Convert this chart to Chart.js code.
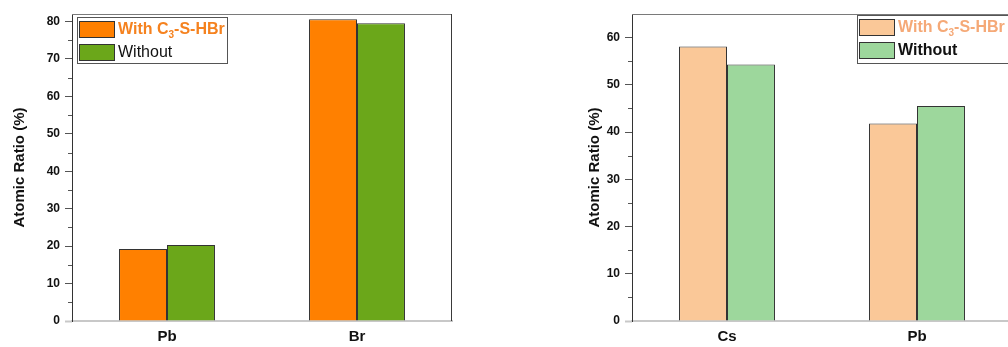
<!DOCTYPE html>
<html>
<head>
<meta charset="utf-8">
<script src="https://cdn.jsdelivr.net/npm/chart.js@4.4.0/dist/chart.umd.min.js"></script>
<style>
  html, body { margin: 0; padding: 0; background: #fff; }
  #wrap { position: relative; width: 1008px; height: 347px; overflow: hidden; }
  canvas { position: absolute; top: 0; }
  #left { left: 0; }
  #right { left: 560px; }
</style>
</head>
<body>
<div id="wrap">
  <canvas id="left" width="520" height="347"></canvas>
  <canvas id="right" width="460" height="347"></canvas>
</div>
<script>
const FONT = "'Liberation Sans', Arial, sans-serif";

// left panel
const leftElements = ['Pb', 'Br'];
const leftWith = [19.2, 80.6];
const leftWithout = [20.3, 79.5];

// right panel
const rightElements = ['Cs', 'Pb'];
const rightWith = [58.1, 41.8];
const rightWithout = [54.3, 45.5];

const seriesLabels = ['With C₃-S-HBr', 'Without'];

// draws text, turning unicode subscript digits into small lowered digits
function drawLabel(ctx, text, x, y, size, weight) {
  const parts = text.split(/([\u2080-\u2089]+)/);
  parts.forEach((p, i) => {
    if (!p) return;
    const sub = i % 2 == 1;
    const t = sub ? p.replace(/[\u2080-\u2089]/g, c => String.fromCharCode(c.charCodeAt(0) - 0x2080 + 48)) : p;
    ctx.font = `${weight} ${sub ? Math.round(size * 0.62) : size}px ${FONT}`;
    ctx.fillText(t, x, sub ? y + size * 0.3 : y);
    x += ctx.measureText(t).width;
  });
}

const frame = {
  id: 'frame',
  beforeDatasetsDraw(chart) {
    const { ctx, chartArea: a } = chart;
    ctx.save();
    ctx.lineWidth = 1;
    ctx.strokeStyle = '#7a7a7a';
    ctx.beginPath();
    ctx.moveTo(a.left, a.top + 0.5);
    ctx.lineTo(a.right, a.top + 0.5);
    ctx.stroke();
    ctx.strokeStyle = '#3a3a3a';
    ctx.beginPath();
    ctx.moveTo(a.right - 0.5, a.top);
    ctx.lineTo(a.right - 0.5, a.bottom);
    ctx.stroke();
    // minor ticks
    const y = chart.scales.y;
    ctx.strokeStyle = '#555';
    ctx.beginPath();
    for (let v = 5; v < y.max; v += 10) {
      const py = Math.round(y.getPixelForValue(v)) + 0.5;
      ctx.moveTo(a.left - 4, py);
      ctx.lineTo(a.left, py);
    }
    ctx.stroke();
    ctx.restore();
  }
};

const boxLegend = {
  id: 'boxLegend',
  afterDatasetsDraw(chart, args, opts) {
    const { ctx, chartArea } = chart;
    const x0 = chartArea.left + opts.dx, y0 = chartArea.top + opts.dy;
    ctx.save();
    ctx.fillStyle = '#fff';
    ctx.fillRect(x0, y0, opts.width, opts.height);
    ctx.strokeStyle = '#555';
    ctx.lineWidth = 1;
    ctx.strokeRect(x0 + 0.5, y0 + 0.5, opts.width, opts.height);
    chart.data.datasets.forEach((ds, i) => {
      const ry = y0 + 4 + i * 23;
      ctx.fillStyle = ds.backgroundColor;
      ctx.fillRect(x0 + 2.5, ry + 0.5, 35, 16);
      ctx.strokeStyle = '#333';
      ctx.strokeRect(x0 + 2.5, ry + 0.5, 35, 16);
      ctx.fillStyle = opts.textColors[i];
      ctx.textBaseline = 'middle';
      ctx.textAlign = 'left';
      drawLabel(ctx, ds.label, x0 + 41, ry + 9, 16, opts.weights[i]);
    });
    ctx.restore();
  }
};

function makeChart(id, labels, withVals, withoutVals, colors, yMax, padRight, titlePad, legendOpts) {
  return new Chart(document.getElementById(id), {
    type: 'bar',
    data: {
      labels: labels,
      datasets: [
        { label: seriesLabels[0], data: withVals, backgroundColor: colors[0], borderColor: '#333', borderWidth: 1 },
        { label: seriesLabels[1], data: withoutVals, backgroundColor: colors[1], borderColor: '#333', borderWidth: 1 }
      ]
    },
    options: {
      responsive: false,
      animation: false,
      layout: { padding: { top: 14, right: padRight, left: 0, bottom: 0 } },
      datasets: { bar: { categoryPercentage: 0.505, barPercentage: 1 } },
      plugins: {
        legend: { display: false },
        tooltip: { enabled: false },
        boxLegend: legendOpts
      },
      scales: {
        x: {
          grid: { display: false, drawTicks: false },
          border: { color: '#c8c8c8', width: 2 },
          ticks: { color: '#111', font: { family: FONT, size: 15, weight: 'bold' }, padding: 7 },
          afterFit: (s) => { s.height = 26; }
        },
        y: {
          min: 0,
          max: yMax,
          ticks: {
            stepSize: 10,
            includeBounds: false,
            color: '#111',
            font: { family: FONT, size: 12, weight: 'bold' },
            padding: 5
          },
          grid: {
            drawOnChartArea: false,
            tickLength: 7,
            tickColor: (c) => c.tick && c.tick.value === 0 ? '#c8c8c8' : '#555',
            tickWidth: (c) => c.tick && c.tick.value === 0 ? 2 : 1
          },
          border: { color: '#333', width: 1 },
          title: {
            display: true,
            text: 'Atomic Ratio (%)',
            color: '#111',
            font: { family: FONT, size: 15, weight: 'bold' },
            padding: { top: titlePad, bottom: 0 }
          },
          afterFit: (s) => { s.width = 72; }
        }
      }
    },
    plugins: [frame, boxLegend]
  });
}

makeChart('left', leftElements, leftWith, leftWithout, ['#FF8000', '#6BA71A'], 82, 68, 11,
  { dx: 5, dy: 3, width: 150, height: 46, textColors: ['#F5821F', '#111'], weights: ['bold', 'normal'] });

makeChart('right', rightElements, rightWith, rightWithout, ['#FAC898', '#9DD79C'], 65, 8, 26,
  { dx: 225, dy: 1, width: 170, height: 48, textColors: ['#F5A977', '#111'], weights: ['bold', 'bold'] });
</script>
</body>
</html>
